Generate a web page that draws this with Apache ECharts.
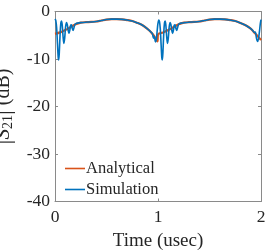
<!DOCTYPE html>
<html><head><meta charset="utf-8">
<script src="https://cdn.jsdelivr.net/npm/echarts@6/dist/echarts.min.js"></script>
<style>html,body{margin:0;padding:0;background:#fff}#c{width:266px;height:251px}</style>
</head><body><div id="c"></div>
<script>
// Analytical series
var timeA = [0,0.05,0.1,0.15,0.2,0.25,0.3,0.35,0.4,0.45,0.5,0.55,0.6,0.65,0.7,0.75,0.8,0.85,0.9,0.93,0.96,0.98,0.995,
             1.0,1.05,1.1,1.15,1.2,1.25,1.3,1.35,1.4,1.45,1.5,1.55,1.6,1.65,1.7,1.75,1.8,1.85,1.9,1.93,1.96,1.98,2.0];
var analytical = [-4.7,-4.4,-3.9,-3.3,-2.7,-2.35,-2.25,-2.2,-2.1,-1.9,-1.7,-1.6,-1.6,-1.65,-1.8,-2.0,-2.4,-2.9,-3.7,-4.3,-5.1,-5.8,-6.3,
                  -4.8,-4.4,-3.9,-3.3,-2.7,-2.35,-2.25,-2.2,-2.1,-1.9,-1.7,-1.6,-1.6,-1.65,-1.8,-2.0,-2.4,-2.9,-3.6,-4.3,-5.0,-5.5,-6.0];
// Simulation series
var timeS = [0.0,0.008,0.016,0.024,0.031,0.036,0.042,0.05,0.057,0.063,0.07,0.078,0.086,0.094,0.103,0.112,0.12,0.128,0.136,0.144,0.152,0.16,0.168,0.175,0.183,0.192,0.2,0.22,0.25,
             0.3,0.35,0.4,0.45,0.5,0.55,0.6,0.65,0.7,0.75,0.8,0.85,0.9,0.925,0.945,0.952,0.958,0.964,0.975,0.985,0.993,
             1.006,1.014,1.022,1.03,1.037,1.042,1.048,1.056,1.063,1.069,1.076,1.084,1.092,1.1,1.109,1.118,1.126,1.134,1.142,1.15,1.158,1.166,1.174,1.181,1.189,1.198,1.206,1.226,1.256,
             1.3,1.35,1.4,1.45,1.5,1.55,1.6,1.65,1.7,1.75,1.8,1.85,1.9,1.92,1.935,1.945,1.955,1.965,1.975,1.985,1.993,2.0];
var simulation = [-1.6,-1.9,-3.5,-6.8,-9.6,-10.2,-8.5,-4.5,-2.4,-2.0,-2.8,-5.2,-6.7,-5.6,-3.2,-2.3,-2.8,-4.0,-4.6,-3.9,-2.9,-2.8,-3.6,-4.0,-3.5,-2.8,-2.6,-2.45,-2.35,
                  -2.25,-2.2,-2.1,-1.9,-1.7,-1.6,-1.6,-1.65,-1.8,-2.0,-2.4,-2.9,-3.7,-4.2,-4.6,-5.3,-5.6,-5.2,-6.4,-5.7,-3.8,
                  -1.8,-2.1,-3.6,-6.9,-9.7,-10.2,-8.5,-4.5,-2.4,-2.0,-2.8,-5.2,-6.7,-5.6,-3.2,-2.3,-2.8,-4.0,-4.6,-3.9,-2.9,-2.8,-3.6,-4.0,-3.5,-2.8,-2.6,-2.45,-2.35,
                  -2.25,-2.2,-2.1,-1.9,-1.7,-1.6,-1.6,-1.65,-1.8,-2.0,-2.4,-2.9,-3.6,-4.0,-4.4,-4.3,-5.5,-6.3,-5.8,-4.2,-2.6,-1.7];
var xTicks = [0,1,2];
var yTicks = [-40,-30,-20,-10,0];

function pairs(t, v){ return t.map(function(x,i){ return [x, v[i]]; }); }

var font = '"Liberation Serif","DejaVu Serif",serif';
var axCol = '#8a8a8a';
var txtCol = '#262626';
var chart = echarts.init(document.getElementById('c'), null, {renderer:'canvas'});
chart.setOption({
  animation:false,
  grid:{left:55, right:5, top:11.5, bottom:49.5, show:false, containLabel:false, outerBoundsMode:'none'},
  legend:{
    orient:'vertical', left:60, top:155, itemWidth:20, itemHeight:1.6, itemGap:4, icon:'rect',
    textStyle:{fontFamily:font, fontSize:16.5, color:txtCol, padding:[0,0,0,-4]},
    data:['Analytical','Simulation']
  },
  xAxis:[{
    type:'value', min:xTicks[0], max:xTicks[xTicks.length-1], interval:1,
    name:'Time (usec)', nameLocation:'middle', nameGap:24,
    nameTextStyle:{fontFamily:font, fontSize:19, color:txtCol},
    axisLine:{show:true, onZero:false, lineStyle:{color:axCol, width:1}},
    axisTick:{show:true, inside:true, length:3, lineStyle:{color:axCol}},
    axisLabel:{fontFamily:font, fontSize:17.5, color:txtCol, margin:7},
    splitLine:{show:false}
  },{
    type:'value', position:'top', min:0, max:2, interval:1,
    axisLine:{show:true, onZero:false, lineStyle:{color:axCol, width:1}},
    axisTick:{show:true, inside:true, length:3, lineStyle:{color:axCol}},
    axisLabel:{show:false}, splitLine:{show:false}
  }],
  yAxis:[{
    type:'value', min:yTicks[0], max:yTicks[yTicks.length-1], interval:10,
    name:'{b||}{i|S}{s|21}{b||}{n| (dB)}', nameLocation:'middle', nameGap:32, nameRotate:90,
    nameTextStyle:{fontFamily:font, fontSize:20, color:txtCol,
      rich:{
        b:{fontFamily:font, fontSize:24, color:txtCol},
        n:{fontFamily:font, fontSize:20, color:txtCol},
        i:{fontFamily:font, fontSize:21, fontStyle:'italic', color:txtCol},
        s:{fontFamily:font, fontSize:14, color:txtCol, verticalAlign:'bottom', padding:[10,0,0,0]}
      }},
    axisLine:{show:true, onZero:false, lineStyle:{color:axCol, width:1}},
    axisTick:{show:true, inside:true, length:3, lineStyle:{color:axCol}},
    axisLabel:{fontFamily:font, fontSize:17.5, color:txtCol, margin:5},
    splitLine:{show:false}
  },{
    type:'value', position:'right', min:-40, max:0, interval:10,
    axisLine:{show:true, onZero:false, lineStyle:{color:axCol, width:1}},
    axisTick:{show:true, inside:true, length:3, lineStyle:{color:axCol}},
    axisLabel:{show:false}, splitLine:{show:false}
  }],
  series:[
    {name:'Analytical', type:'line', data:pairs(timeA, analytical), symbol:'none', smooth:0.3,
     lineStyle:{color:'#D95319', width:2.2}, itemStyle:{color:'#D95319'}},
    {name:'Simulation', type:'line', data:pairs(timeS, simulation), symbol:'none', smooth:0.3,
     lineStyle:{color:'#0072BD', width:1.6}, itemStyle:{color:'#0072BD'}}
  ]
});
</script>
</body></html>
